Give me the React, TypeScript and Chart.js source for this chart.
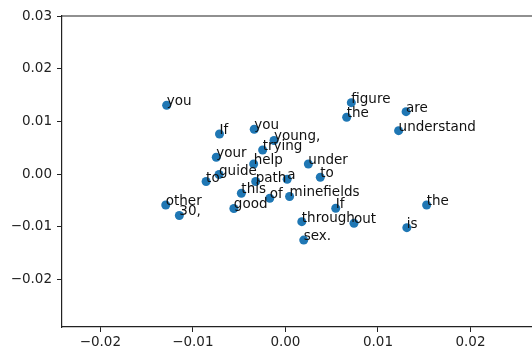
import React, { useEffect, useRef } from "react";
import { Chart, registerables } from "chart.js";

Chart.register(...registerables);

const words = [
  "you", "If", "you", "young,", "trying", "your", "help", "guide", "to", "path",
  "a", "this", "of", "good", "minefields", "other", "30,", "under", "to", "figure",
  "the", "are", "understand", "the", "is", "If", "through", "out", "sex.",
];
const xs = [
  -0.01283, -0.00712, -0.00337, -0.00123, -0.00246, -0.00747, -0.00343, -0.00717, -0.00857, -0.00321,
  0.00019, -0.00476, -0.00169, -0.00557, 0.00045, -0.01293, -0.01146, 0.00248, 0.00377, 0.00712,
  0.00662, 0.01304, 0.01223, 0.01526, 0.01312, 0.00544, 0.00177, 0.00741, 0.00198,
];
const ys = [
  0.01307, 0.00761, 0.00851, 0.00638, 0.00458, 0.00319, 0.00192, -0.00008, -0.00141, -0.00141,
  -0.00099, -0.00365, -0.0046, -0.00653, -0.00425, -0.00587, -0.00786, 0.00192, -0.00061, 0.01356,
  0.01079, 0.01185, 0.00824, -0.00587, -0.01018, -0.00649, -0.00904, -0.00934, -0.01253,
];
const xTicks = [-0.02, -0.01, 0.0, 0.01, 0.02];
const yTicks = [-0.02, -0.01, 0.0, 0.01, 0.02, 0.03];
const xMin = -0.02414;
const xMax = 0.02832;
const yMin = -0.02904;
const yMax = 0.03002;

const FONT = "DejaVu Sans";
const fmt = (v: number) => v.toFixed(2).replace("-", "\u2212");

export default function App() {
  const ref = useRef<HTMLCanvasElement | null>(null);
  useEffect(() => {
    if (!ref.current) return;
    const framePlugin = {
      id: "frame",
      afterDraw(chart: any) {
        const { ctx, chartArea } = chart;
        ctx.save();
        ctx.strokeStyle = "#222";
        ctx.lineWidth = 1.2;
        ctx.beginPath();
        ctx.moveTo(chartArea.left, chartArea.top);
        ctx.lineTo(chartArea.right, chartArea.top);
        ctx.lineTo(chartArea.right, chartArea.bottom);
        ctx.stroke();
        ctx.restore();
      },
    };
    const labelPlugin = {
      id: "wordLabels",
      afterDatasetsDraw(chart: any) {
        const { ctx } = chart;
        const meta = chart.getDatasetMeta(0);
        ctx.save();
        ctx.font = `13.5px "${FONT}"`;
        ctx.fillStyle = "#111";
        ctx.textAlign = "left";
        ctx.textBaseline = "alphabetic";
        meta.data.forEach((el: any, i: number) => {
          ctx.fillText(words[i], el.x, el.y);
        });
        ctx.restore();
      },
    };
    const chart = new Chart(ref.current, {
      type: "scatter",
      data: {
        datasets: [
          {
            data: xs.map((x, i) => ({ x, y: ys[i] })),
            backgroundColor: "#1f77b4",
            borderColor: "#1f77b4",
            borderWidth: 0,
            pointRadius: 4.5,
            pointHoverRadius: 4.5,
          },
        ],
      },
      options: {
        responsive: false,
        animation: false,
        events: [],
        layout: { padding: { top: 16, left: 0, right: 0, bottom: 0 } },
        plugins: { legend: { display: false }, tooltip: { enabled: false } },
        scales: {
          x: {
            type: "linear",
            min: xMin,
            max: xMax,
            afterBuildTicks: (s: any) => {
              s.ticks = xTicks.map((v) => ({ value: v }));
            },
            afterFit: (s: any) => {
              s.height = 25;
            },
            grid: { drawOnChartArea: false, tickLength: 5, color: "#222", lineWidth: 1 },
            border: { display: true, color: "#222", width: 1.2 },
            ticks: {
              autoSkip: false,
              maxRotation: 0,
              padding: 2,
              color: "#222",
              font: { family: FONT, size: 13.5 },
              callback: (v: any) => fmt(Number(v)),
            },
          },
          y: {
            type: "linear",
            min: yMin,
            max: yMax,
            afterBuildTicks: (s: any) => {
              s.ticks = yTicks.map((v) => ({ value: v }));
            },
            afterFit: (s: any) => {
              s.width = 62;
            },
            grid: { drawOnChartArea: false, tickLength: 5, color: "#222", lineWidth: 1 },
            border: { display: true, color: "#222", width: 1.2 },
            ticks: {
              autoSkip: false,
              padding: 5,
              color: "#222",
              font: { family: FONT, size: 13.5 },
              callback: (v: any) => fmt(Number(v)),
            },
          },
        },
      },
      plugins: [framePlugin, labelPlugin],
    });
    return () => chart.destroy();
  }, []);
  return (
    <div
      style={{
        position: "fixed",
        left: 0,
        top: 0,
        width: 532,
        height: 352,
        overflow: "hidden",
        background: "#fff",
      }}
    >
      <canvas ref={ref} width={552} height={352} style={{ display: "block", width: 552, height: 352 }} />
    </div>
  );
}
